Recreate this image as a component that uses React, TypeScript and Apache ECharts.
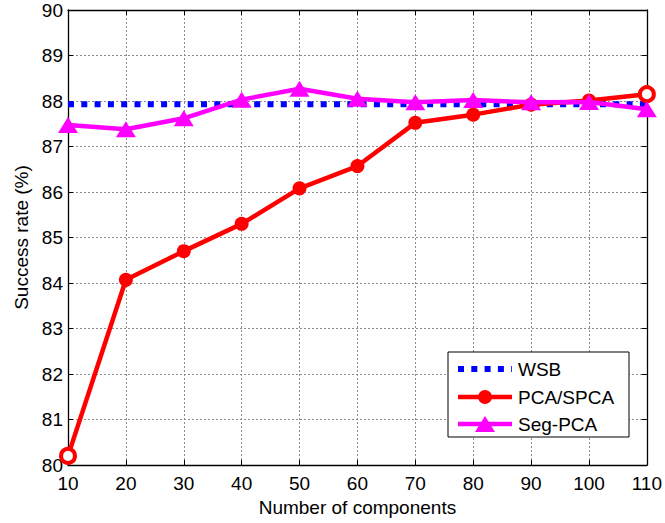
import React, { useEffect, useRef } from "react";
import * as echarts from "echarts";

const components = [10, 20, 30, 40, 50, 60, 70, 80, 90, 100, 110];
const wsb = [87.93, 87.93, 87.93, 87.93, 87.93, 87.93, 87.93, 87.93, 87.93, 87.93, 87.93];
const pcaSpca = [80.2, 84.07, 84.7, 85.3, 86.08, 86.57, 87.52, 87.7, 87.92, 88.01, 88.15];
const segPca = [87.47, 87.38, 87.62, 88.03, 88.27, 88.05, 87.97, 88.02, 87.97, 87.98, 87.82];
const hollowIdx = [0, 10];
const legendNames = ["WSB", "PCA/SPCA", "Seg-PCA"];

const FONT = "'Liberation Sans', Arial, sans-serif";
const FS = 19;

export default function App() {
  const ref = useRef<HTMLDivElement>(null);
  useEffect(() => {
    if (!ref.current) return;
    const chart = echarts.init(ref.current, undefined, { renderer: "svg" });
    const pair = (vals: number[]) => components.map((c, i) => [c, vals[i]]);
    const gridLine = { show: true, lineStyle: { color: "#8c8c8c", type: [2, 2] as any, width: 1 } };
    const axisLine = { show: true, onZero: false, lineStyle: { color: "#000", width: 1.3 } };
    const tick = { show: true, inside: true, length: 5, lineStyle: { color: "#000" } };

    // legend box (drawn as graphic to mimic MATLAB legend)
    const lx = 448, ly = 352, lw = 181, lh = 85;
    const iconX0 = 458, iconX1 = 512, iconC = 485, textX = 518;
    const rowY = [369, 397, 424];
    const legendGraphic: any[] = [
      { type: "rect", shape: { x: lx, y: ly, width: lw, height: lh }, style: { fill: "#fff", stroke: "#000", lineWidth: 1 }, z: 100 },
      { type: "line", shape: { x1: iconX0, y1: rowY[0], x2: iconX1, y2: rowY[0] }, style: { stroke: "#0000ff", lineWidth: 6, lineDash: [6, 7.3], lineCap: "butt" }, z: 101 },
      { type: "line", shape: { x1: iconX0, y1: rowY[1], x2: iconX1, y2: rowY[1] }, style: { stroke: "#ff0000", lineWidth: 4.5 }, z: 101 },
      { type: "circle", shape: { cx: iconC, cy: rowY[1], r: 7 }, style: { fill: "#ff0000" }, z: 102 },
      { type: "line", shape: { x1: iconX0, y1: rowY[2], x2: iconX1, y2: rowY[2] }, style: { stroke: "#ff00ff", lineWidth: 4.5 }, z: 101 },
      { type: "polygon", shape: { points: [[iconC - 10, rowY[2] + 8], [iconC + 10, rowY[2] + 8], [iconC, rowY[2] - 8]] }, style: { fill: "#ff00ff" }, z: 102 },
      ...legendNames.map((n, i) => ({
        type: "text",
        x: textX,
        y: rowY[i],
        style: { text: n, fontSize: FS, fontFamily: FONT, fill: "#000", verticalAlign: "middle", align: "left" },
        z: 102,
      })),
    ];

    chart.setOption({
      animation: false,
      backgroundColor: "#fff",
      textStyle: { fontFamily: FONT },
      grid: { left: 68, right: 16, top: 10, bottom: 58, containLabel: false },
      xAxis: [
        {
          type: "value",
          min: 10,
          max: 110,
          interval: 10,
          position: "bottom",
          name: "Number of components",
          nameLocation: "middle",
          nameGap: 32,
          nameTextStyle: { fontSize: FS, color: "#000", fontFamily: FONT },
          axisLine,
          axisTick: tick,
          splitLine: gridLine,
          axisLabel: { fontSize: FS, color: "#000", margin: 9, fontFamily: FONT },
        },
        {
          type: "value",
          min: 10,
          max: 110,
          interval: 10,
          position: "top",
          axisLine,
          axisTick: tick,
          splitLine: { show: false },
          axisLabel: { show: false },
        },
      ],
      yAxis: [
        {
          type: "value",
          min: 80,
          max: 90,
          interval: 1,
          position: "left",
          name: "Success rate (%)",
          nameLocation: "middle",
          nameGap: 37,
          nameTextStyle: { fontSize: FS, color: "#000", fontFamily: FONT },
          axisLine,
          axisTick: tick,
          splitLine: gridLine,
          axisLabel: { fontSize: FS, color: "#000", margin: 5, fontFamily: FONT },
        },
        {
          type: "value",
          min: 80,
          max: 90,
          interval: 1,
          position: "right",
          axisLine,
          axisTick: tick,
          splitLine: { show: false },
          axisLabel: { show: false },
        },
      ],
      graphic: legendGraphic,
      series: [
        {
          name: "WSB",
          type: "line",
          data: pair(wsb),
          symbol: "none",
          clip: false,
          lineStyle: { color: "#0000ff", width: 6, type: [6, 7.3] as any, cap: "butt" },
          itemStyle: { color: "#0000ff" },
          z: 3,
        },
        {
          name: "PCA/SPCA",
          type: "line",
          data: pair(pcaSpca).map((p, i) =>
            hollowIdx.includes(i)
              ? { value: p, itemStyle: { color: "#fff", borderColor: "#ff0000", borderWidth: 4 } }
              : { value: p }
          ),
          symbol: "circle",
          symbolSize: 14,
          clip: false,
          lineStyle: { color: "#ff0000", width: 4.5 },
          itemStyle: { color: "#ff0000" },
          z: 4,
        },
        {
          name: "Seg-PCA",
          type: "line",
          data: pair(segPca),
          symbol: "triangle",
          symbolSize: [20, 16],
          clip: false,
          lineStyle: { color: "#ff00ff", width: 4.5 },
          itemStyle: { color: "#ff00ff" },
          z: 5,
        },
      ],
    });
    return () => chart.dispose();
  }, []);
  return (
    <div
      ref={ref}
      style={{ position: "absolute", left: 0, top: 0, width: 665, height: 523, background: "#fff" }}
    />
  );
}
